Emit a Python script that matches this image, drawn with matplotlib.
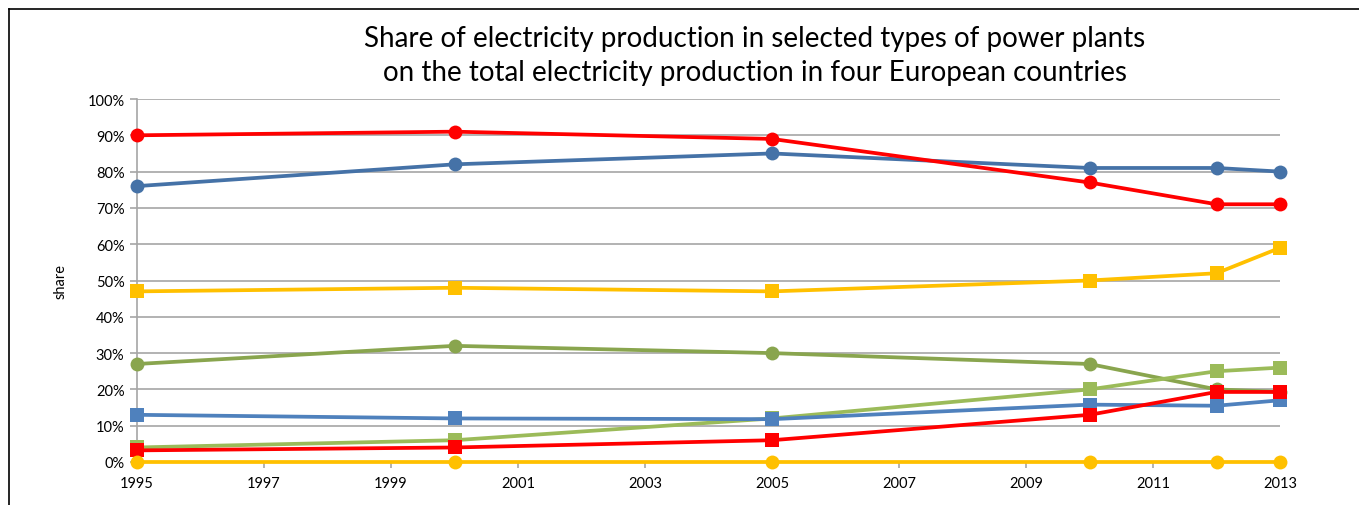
import matplotlib
matplotlib.use("Agg")
import matplotlib.pyplot as plt
from matplotlib.lines import Line2D
from matplotlib.ticker import FuncFormatter

years = [1995, 2000, 2005, 2010, 2012, 2013]

red_circles = [90, 91, 89, 77, 71, 71]
blue_circles = [76, 82, 85, 81, 81, 80]
yellow_squares = [47, 48, 47, 50, 52, 59]
green_circles = [27, 32, 30, 27, 20, 19.3]
lightgreen_squares = [4, 6, 12, 20, 25, 26]
blue_squares = [13, 12, 11.8, 15.8, 15.5, 17]
red_squares = [3.2, 4, 6, 13, 19.3, 19.3]
yellow_circles = [0, 0, 0, 0, 0, 0]

xticks = list(range(1995, 2014, 2))
yticks = list(range(0, 101, 10))

title = "Share of electricity production in selected types of power plants\non the total electricity production in four European countries"

plt.rcParams['font.family'] = ['Lato', 'DejaVu Sans']

fig = plt.figure(figsize=(13.59, 5.06), dpi=100)
ax = fig.add_axes([137/1359, 1-463/506, (1280-137)/1359, (463-100)/506])

series = [
    (blue_circles, '#4572A7', 'o'),
    (red_circles, '#FF0000', 'o'),
    (yellow_squares, '#FFC000', 's'),
    (green_circles, '#89A54E', 'o'),
    (lightgreen_squares, '#9BBB59', 's'),
    (blue_squares, '#4F81BD', 's'),
    (red_squares, '#FF0000', 's'),
    (yellow_circles, '#FFC000', 'o'),
]
for vals, col, m in series:
    ax.plot(years, vals, color=col, lw=2.7, marker=m,
            markersize=10, markeredgewidth=0,
            clip_on=False, zorder=3)

ax.set_xlim(1995, 2013)
ax.set_ylim(0, 100)
ax.set_xticks(xticks)
ax.set_xticklabels([str(y) for y in xticks])
ax.set_yticks(yticks)
ax.yaxis.set_major_formatter(FuncFormatter(lambda v, p: f"{int(v)}%"))
ax.grid(axis='y', color='#A6A6A6', lw=1.2)
ax.set_axisbelow(True)
for s in ['top', 'right']:
    ax.spines[s].set_visible(False)
ax.spines['left'].set_color('#A6A6A6')
ax.spines['left'].set_linewidth(1.2)
ax.spines['bottom'].set_color('#A6A6A6')
ax.spines['bottom'].set_linewidth(1.2)
ax.tick_params(axis='y', length=5, color='#A6A6A6', width=1.2, labelsize=10.5, pad=4)
ax.tick_params(axis='x', length=4, color='#A6A6A6', width=1.2, labelsize=10.5, pad=6)
ax.set_ylabel("share", fontsize=10.5, labelpad=14)

fig.text(755/1359, 1-56/506, title, ha='center', va='center', fontsize=20,
         linespacing=1.42)

# outer border (top and left)
fig.add_artist(Line2D([9/1359, 1], [1-10/506, 1-10/506], color='black', lw=1.2,
                      transform=fig.transFigure))
fig.add_artist(Line2D([9/1359, 9/1359], [0, 1-10/506], color='black', lw=1.2,
                      transform=fig.transFigure))

fig.savefig("out.png", dpi=100)
